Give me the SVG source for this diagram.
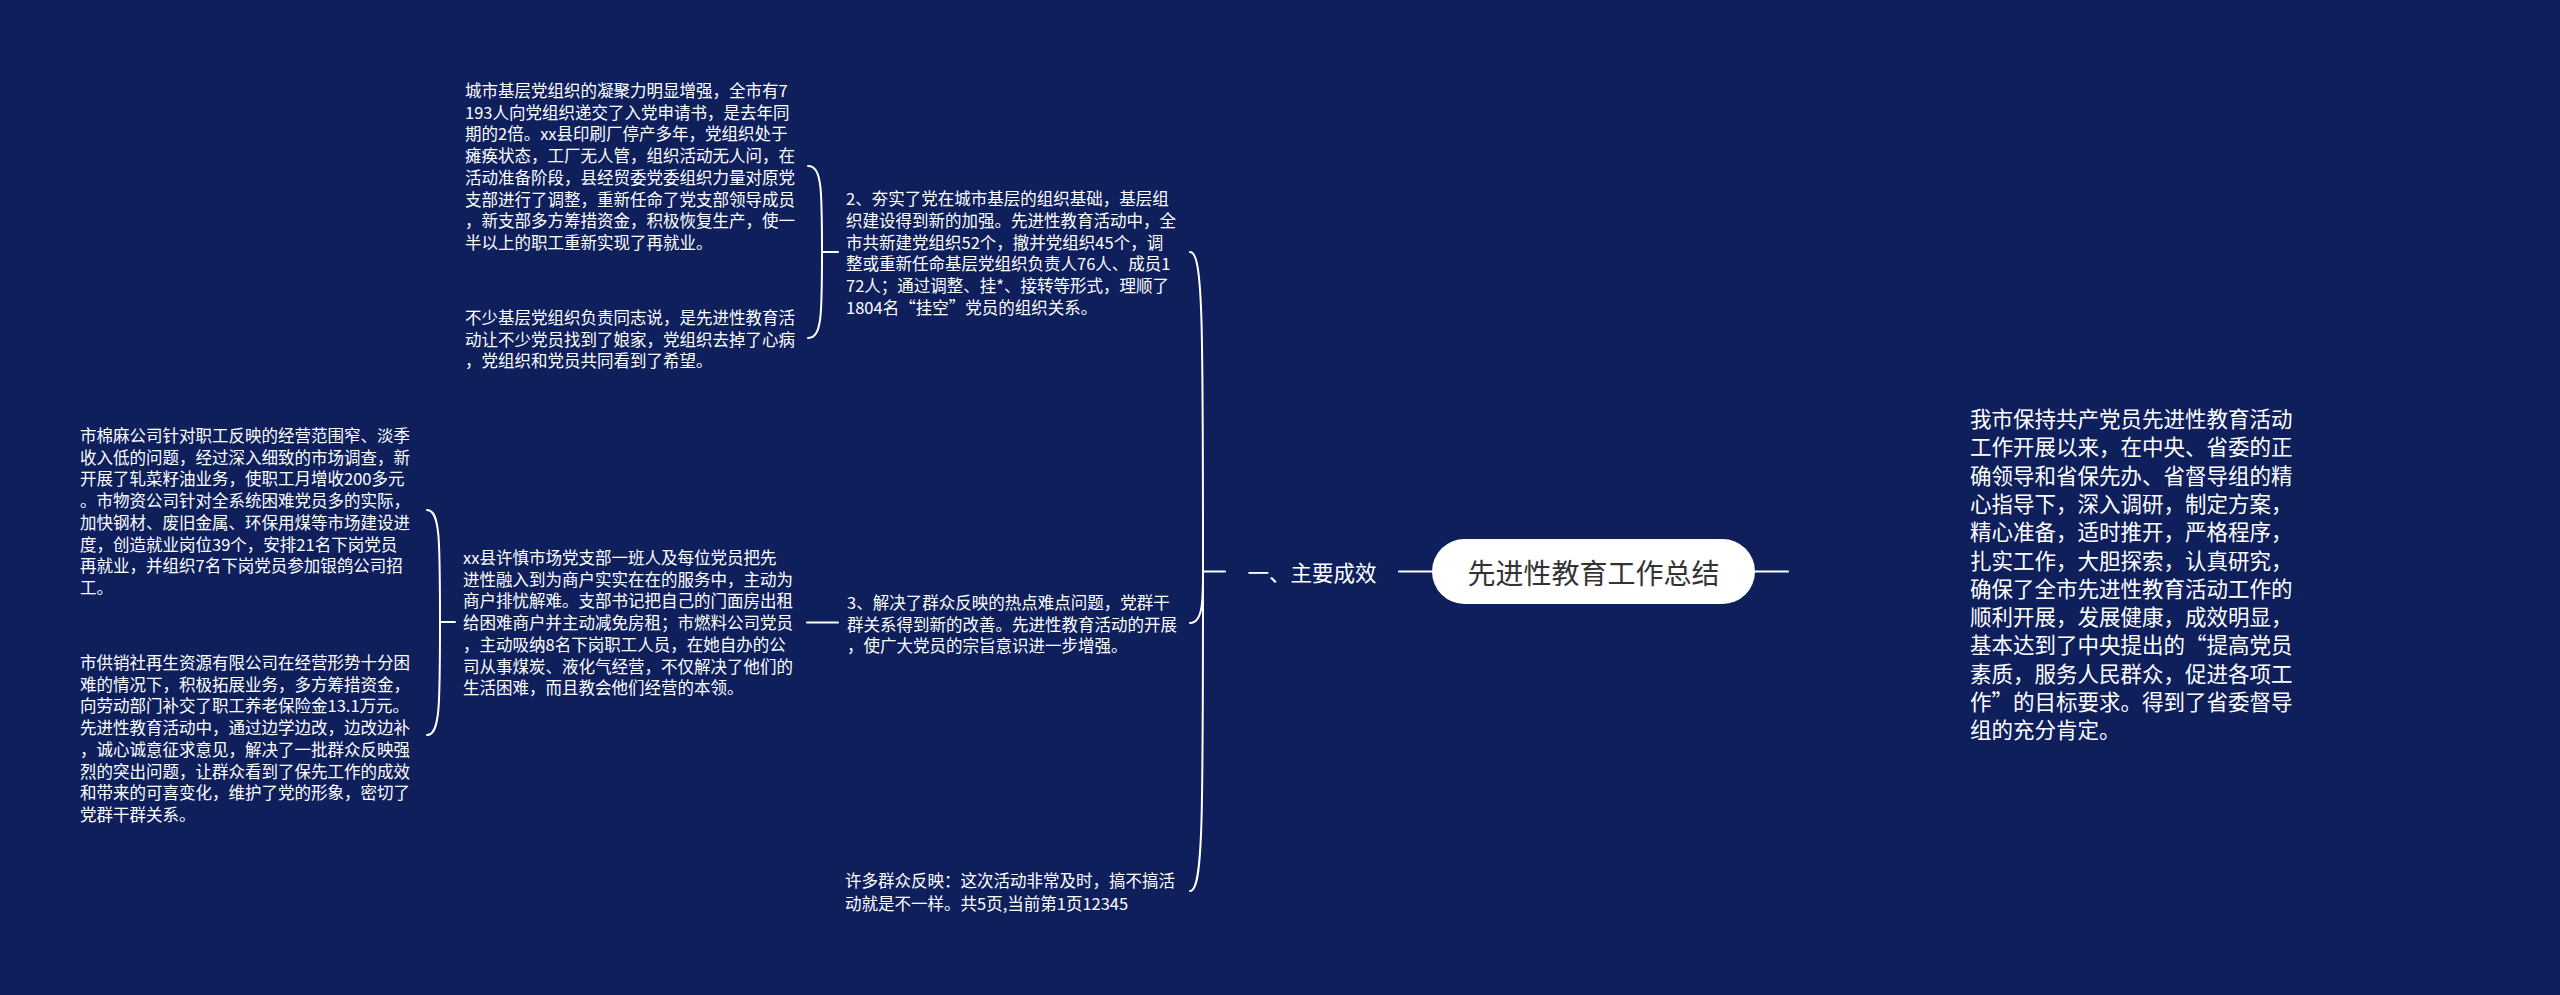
<svg xmlns="http://www.w3.org/2000/svg" width="2560" height="995" viewBox="0 0 2560 995">
<style>
.t{font-family:"Noto Sans CJK SC","Noto Sans",sans-serif;fill:#ffffff;dominant-baseline:central;}
.s{font-size:16.5px;}
.m{font-size:21.5px;}
.c{fill:none;stroke:#ffffff;stroke-width:2;stroke-linecap:round;}
</style>
<rect x="0" y="0" width="2560" height="995" fill="#0e1f5c"/>
<g id="connectors">
<path class="c" d="M1755 571.5 H1788"/>
<path class="c" d="M1399 571.5 H1432"/>
<path class="c" d="M1225 571.5 H1203"/>
<path class="c" d="M1203 571.5 C1203 320 1203 252 1190 252"/>
<path class="c" d="M1203 571.5 C1203 600 1203 623 1190 623"/>
<path class="c" d="M1203 571.5 C1203 820 1203 891 1190 891"/>
<path class="c" d="M838 252 H822"/>
<path class="c" d="M822 252 C822 190 822 166 808 166"/>
<path class="c" d="M822 252 C822 314 822 338 808 338"/>
<path class="c" d="M838 622.5 H807"/>
<path class="c" d="M455 622 H440"/>
<path class="c" d="M440 622 C440 540 440 510 427 510"/>
<path class="c" d="M440 622 C440 705 440 735 427 735"/>
</g>
<g id="root">
<rect x="1432" y="539" width="323" height="65" rx="32.5" fill="#ffffff"/>
<text class="t" x="1593.5" y="571.5" text-anchor="middle" style="font-size:28px;fill:#333333">先进性教育工作总结</text>
</g>
<g id="n-main">
<text class="t m" x="1312" y="571.5" text-anchor="middle">一、主要成效</text>
</g>
<g id="n-right">
<text class="t m" x="1970">
<tspan x="1970" y="417">我市保持共产党员先进性教育活动</tspan>
<tspan x="1970" y="445.3">工作开展以来，在中央、省委的正</tspan>
<tspan x="1970" y="473.6">确领导和省保先办、省督导组的精</tspan>
<tspan x="1970" y="501.9">心指导下，深入调研，制定方案，</tspan>
<tspan x="1970" y="530.2">精心准备，适时推开，严格程序，</tspan>
<tspan x="1970" y="558.5">扎实工作，大胆探索，认真研究，</tspan>
<tspan x="1970" y="586.8">确保了全市先进性教育活动工作的</tspan>
<tspan x="1970" y="615.1">顺利开展，发展健康，成效明显，</tspan>
<tspan x="1970" y="643.4">基本达到了中央提出的“提高党员</tspan>
<tspan x="1970" y="671.7">素质，服务人民群众，促进各项工</tspan>
<tspan x="1970" y="700">作”的目标要求。得到了省委督导</tspan>
<tspan x="1970" y="728.3">组的充分肯定。</tspan>
</text>
</g>
<g id="n2">
<text class="t s">
<tspan x="846" y="198">2、夯实了党在城市基层的组织基础，基层组</tspan>
<tspan x="846" y="219.8">织建设得到新的加强。先进性教育活动中，全</tspan>
<tspan x="846" y="241.6">市共新建党组织52个，撤并党组织45个，调</tspan>
<tspan x="846" y="263.4">整或重新任命基层党组织负责人76人、成员1</tspan>
<tspan x="846" y="285.2">72人；通过调整、挂*、接转等形式，理顺了</tspan>
<tspan x="846" y="307">1804名“挂空”党员的组织关系。</tspan>
</text>
</g>
<g id="n2a">
<text class="t s">
<tspan x="465" y="90">城市基层党组织的凝聚力明显增强，全市有7</tspan>
<tspan x="465" y="111.7">193人向党组织递交了入党申请书，是去年同</tspan>
<tspan x="465" y="133.4">期的2倍。xx县印刷厂停产多年，党组织处于</tspan>
<tspan x="465" y="155.1">瘫痪状态，工厂无人管，组织活动无人问，在</tspan>
<tspan x="465" y="176.8">活动准备阶段，县经贸委党委组织力量对原党</tspan>
<tspan x="465" y="198.5">支部进行了调整，重新任命了党支部领导成员</tspan>
<tspan x="465" y="220.2">，新支部多方筹措资金，积极恢复生产，使一</tspan>
<tspan x="465" y="241.9">半以上的职工重新实现了再就业。</tspan>
</text>
</g>
<g id="n2b">
<text class="t s">
<tspan x="465" y="317">不少基层党组织负责同志说，是先进性教育活</tspan>
<tspan x="465" y="338.7">动让不少党员找到了娘家，党组织去掉了心病</tspan>
<tspan x="465" y="360.4">，党组织和党员共同看到了希望。</tspan>
</text>
</g>
<g id="n3">
<text class="t s">
<tspan x="847" y="602">3、解决了群众反映的热点难点问题，党群干</tspan>
<tspan x="847" y="623.7">群关系得到新的改善。先进性教育活动的开展</tspan>
<tspan x="847" y="645.4">，使广大党员的宗旨意识进一步增强。</tspan>
</text>
</g>
<g id="n3a">
<text class="t s">
<tspan x="463" y="557">xx县许慎市场党支部一班人及每位党员把先</tspan>
<tspan x="463" y="578.7">进性融入到为商户实实在在的服务中，主动为</tspan>
<tspan x="463" y="600.4">商户排忧解难。支部书记把自己的门面房出租</tspan>
<tspan x="463" y="622.1">给困难商户并主动减免房租；市燃料公司党员</tspan>
<tspan x="463" y="643.8">，主动吸纳8名下岗职工人员，在她自办的公</tspan>
<tspan x="463" y="665.5">司从事煤炭、液化气经营，不仅解决了他们的</tspan>
<tspan x="463" y="687.2">生活困难，而且教会他们经营的本领。</tspan>
</text>
</g>
<g id="n3a1">
<text class="t s">
<tspan x="80" y="435">市棉麻公司针对职工反映的经营范围窄、淡季</tspan>
<tspan x="80" y="456.7">收入低的问题，经过深入细致的市场调查，新</tspan>
<tspan x="80" y="478.4">开展了轧菜籽油业务，使职工月增收200多元</tspan>
<tspan x="80" y="500.1">。市物资公司针对全系统困难党员多的实际，</tspan>
<tspan x="80" y="521.8">加快钢材、废旧金属、环保用煤等市场建设进</tspan>
<tspan x="80" y="543.5">度，创造就业岗位39个，安排21名下岗党员</tspan>
<tspan x="80" y="565.2">再就业，并组织7名下岗党员参加银鸽公司招</tspan>
<tspan x="80" y="586.9">工。</tspan>
</text>
</g>
<g id="n3a2">
<text class="t s">
<tspan x="80" y="662">市供销社再生资源有限公司在经营形势十分困</tspan>
<tspan x="80" y="683.7">难的情况下，积极拓展业务，多方筹措资金，</tspan>
<tspan x="80" y="705.4">向劳动部门补交了职工养老保险金13.1万元。</tspan>
<tspan x="80" y="727.1">先进性教育活动中，通过边学边改，边改边补</tspan>
<tspan x="80" y="748.8">，诚心诚意征求意见，解决了一批群众反映强</tspan>
<tspan x="80" y="770.5">烈的突出问题，让群众看到了保先工作的成效</tspan>
<tspan x="80" y="792.2">和带来的可喜变化，维护了党的形象，密切了</tspan>
<tspan x="80" y="813.9">党群干群关系。</tspan>
</text>
</g>
<g id="n4">
<text class="t s">
<tspan x="845" y="880">许多群众反映：这次活动非常及时，搞不搞活</tspan>
<tspan x="845" y="902.5">动就是不一样。共5页,当前第1页12345</tspan>
</text>
</g>
</svg>
